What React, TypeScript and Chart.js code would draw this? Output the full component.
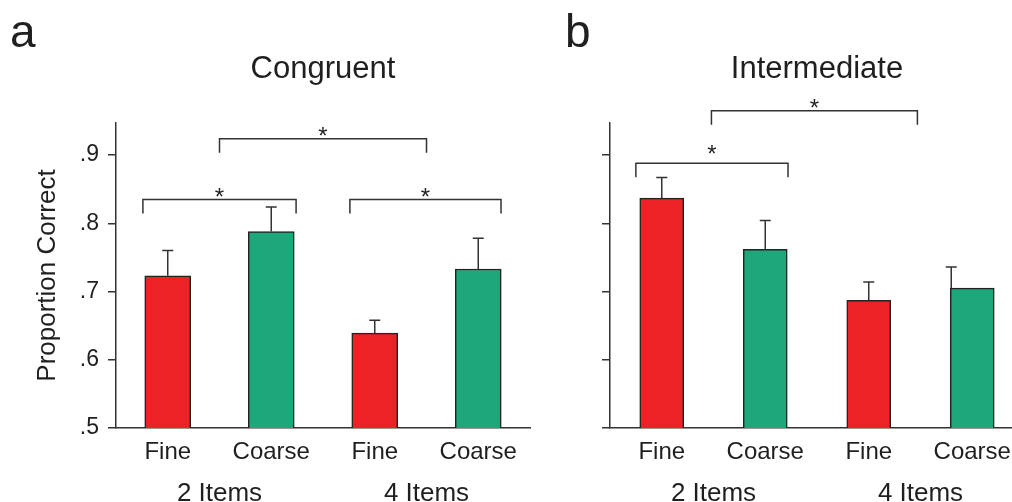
import React, { useEffect, useRef } from 'react';
import { Chart, registerables } from 'chart.js';

Chart.register(...registerables);

// ---------- data ----------
const categories = ['Fine', 'Coarse', 'Fine', 'Coarse'];
const groupLabels = ['2 Items', '4 Items'];
const groupCenters = [0.5, 2.5];
const yTickValues = [0.5, 0.6, 0.7, 0.8, 0.9];
const yTickLabels = ['.5', '.6', '.7', '.8', '.9'];
const yMin = 0.5;
const yMax = 0.947;

const congruentMeans = [0.723, 0.788, 0.639, 0.733];
const congruentErrors = [0.037, 0.036, 0.019, 0.045];
const intermediateMeans = [0.837, 0.762, 0.687, 0.705];
const intermediateErrors = [0.030, 0.042, 0.027, 0.031];

// significance brackets (category units / data units)
const congruentBracketFrom = [-0.24, 0.5, 1.76];
const congruentBracketTo = [1.24, 2.5, 3.22];
const congruentBracketLevel = [0.835, 0.924, 0.835];
const intermediateBracketFrom = [-0.25, 0.48];
const intermediateBracketTo = [1.22, 2.47];
const intermediateBracketLevel = [0.888, 0.965];

// ---------- styles ----------
const RED = '#ED2226';
const GREEN = '#1EA77A';
const INK = '#333333';
const TEXT = '#1f1f1f';
const FONT = '"Liberation Sans", Arial, Helvetica, sans-serif';

type Panel = {
  letter: string;
  title: string;
  means: number[];
  errors: number[];
  errAnchor: string[];
  bFrom: number[];
  bTo: number[];
  bLevel: number[];
  starGap: number[];
  showYLabels: boolean;
  left: number;
  width: number;
  yWidth: number;
  padRight: number;
  barThickness: number;
  letterX: number;
};

const panels: Panel[] = [
  {
    letter: 'a',
    title: 'Congruent',
    means: congruentMeans,
    errors: congruentErrors,
    errAnchor: ['center', 'center', 'center', 'center'],
    bFrom: congruentBracketFrom,
    bTo: congruentBracketTo,
    bLevel: congruentBracketLevel,
    starGap: [8, 8, 8],
    showYLabels: true,
    left: 0,
    width: 560,
    yWidth: 116,
    padRight: 30,
    barThickness: 46,
    letterX: 10,
  },
  {
    letter: 'b',
    title: 'Intermediate',
    means: intermediateMeans,
    errors: intermediateErrors,
    errAnchor: ['center', 'center', 'center', 'left'],
    bFrom: intermediateBracketFrom,
    bTo: intermediateBracketTo,
    bLevel: intermediateBracketLevel,
    starGap: [15, 8],
    showYLabels: false,
    left: 500,
    width: 540,
    yWidth: 110,
    padRight: 16,
    barThickness: 44,
    letterX: 65,
  },
];

function makeDecor(p: Panel) {
  return {
    id: 'decor',
    afterDatasetsDraw(chart: any) {
      const ctx = chart.ctx as CanvasRenderingContext2D;
      const xs = chart.scales.x;
      const ys = chart.scales.y;
      const area = chart.chartArea;
      const meta = chart.getDatasetMeta(0);
      ctx.save();
      ctx.strokeStyle = INK;
      ctx.lineWidth = 1.5;
      // error bars
      meta.data.forEach((bar: any, i: number) => {
        const pr = bar.getProps(['x', 'y', 'width'], true);
        const top = ys.getPixelForValue(p.means[i] + p.errors[i]);
        const ex = p.errAnchor[i] === 'left' ? pr.x - pr.width / 2 + 1 : pr.x;
        ctx.beginPath();
        ctx.moveTo(ex, pr.y);
        ctx.lineTo(ex, top);
        ctx.moveTo(ex - 5.5, top);
        ctx.lineTo(ex + 5.5, top);
        ctx.stroke();
      });
      // brackets
      ctx.fillStyle = TEXT;
      ctx.font = `24px ${FONT}`;
      ctx.textAlign = 'center';
      ctx.textBaseline = 'alphabetic';
      p.bFrom.forEach((f, i) => {
        const x1 = xs.getPixelForValue(f);
        const x2 = xs.getPixelForValue(p.bTo[i]);
        const yl = ys.getPixelForValue(p.bLevel[i]);
        ctx.beginPath();
        ctx.moveTo(x1, yl + 14);
        ctx.lineTo(x1, yl);
        ctx.lineTo(x2, yl);
        ctx.lineTo(x2, yl + 14);
        ctx.stroke();
        ctx.fillText('*', (x1 + x2) / 2, yl - p.starGap[i] + 13.5);
      });
      // title
      const cx = (area.left + area.right) / 2;
      ctx.font = `31px ${FONT}`;
      ctx.fillText(p.title, cx, 78);
      // panel letter
      ctx.textAlign = 'left';
      ctx.font = `46px ${FONT}`;
      ctx.fillText(p.letter, p.letterX, 47);
      // group labels
      ctx.textAlign = 'center';
      ctx.font = `26px ${FONT}`;
      groupLabels.forEach((g, i) => {
        ctx.fillText(g, xs.getPixelForValue(groupCenters[i]), 501);
      });
      ctx.restore();
    },
  };
}

function PanelChart({ p }: { p: Panel }) {
  const ref = useRef<HTMLCanvasElement | null>(null);
  useEffect(() => {
    if (!ref.current) return;
    const chart = new Chart(ref.current, {
      type: 'bar',
      data: {
        labels: categories,
        datasets: [
          {
            data: p.means,
            backgroundColor: [RED, GREEN, RED, GREEN],
            borderColor: '#222222',
            borderWidth: 1.5,
            borderSkipped: 'start',
            barThickness: p.barThickness,
          },
        ],
      },
      options: {
        animation: false,
        responsive: false,
        events: [],
        layout: { padding: { top: 123, bottom: 0, left: 0, right: p.padRight } },
        plugins: { legend: { display: false }, tooltip: { enabled: false }, title: { display: false } },
        scales: {
          x: {
            type: 'category',
            offset: true,
            grid: { display: false, drawTicks: false },
            border: { display: true, color: INK, width: 1.5 },
            ticks: { color: TEXT, font: { family: FONT, size: 24 }, padding: 10, maxRotation: 0 },
            afterFit: (s: any) => {
              s.height = 74;
            },
          },
          y: {
            type: 'linear',
            min: yMin,
            max: yMax,
            grid: { display: true, drawOnChartArea: false, drawTicks: true, tickLength: 8, color: INK, lineWidth: 1.5 },
            border: { display: true, color: INK, width: 1.5 },
            afterBuildTicks: (s: any) => {
              s.ticks = yTickValues.map((v) => ({ value: v }));
            },
            ticks: {
              color: TEXT,
              font: { family: FONT, size: 23 },
              padding: 9,
              callback: (v: any) => {
                if (!p.showYLabels) return '';
                const idx = yTickValues.findIndex((t) => Math.abs(t - Number(v)) < 1e-6);
                return idx >= 0 ? yTickLabels[idx] : '';
              },
            },
            title: {
              display: p.showYLabels,
              text: 'Proportion Correct',
              color: TEXT,
              font: { family: FONT, size: 26 },
              padding: { top: 32, bottom: 0 },
            },
            afterFit: (s: any) => {
              s.width = p.yWidth;
            },
          },
        },
      },
      plugins: [makeDecor(p)],
    } as any);
    return () => chart.destroy();
  }, [p]);
  return (
    <canvas
      ref={ref}
      width={p.width}
      height={502}
      style={{ position: 'absolute', left: p.left, top: 0, width: p.width, height: 502, display: 'block' }}
    />
  );
}

export default function App() {
  return (
    <div
      style={{
        position: 'absolute',
        left: 0,
        top: 0,
        width: 1012,
        height: 502,
        overflow: 'hidden',
        background: '#ffffff',
      }}
    >
      {panels.map((p) => (
        <PanelChart key={p.letter} p={p} />
      ))}
    </div>
  );
}
